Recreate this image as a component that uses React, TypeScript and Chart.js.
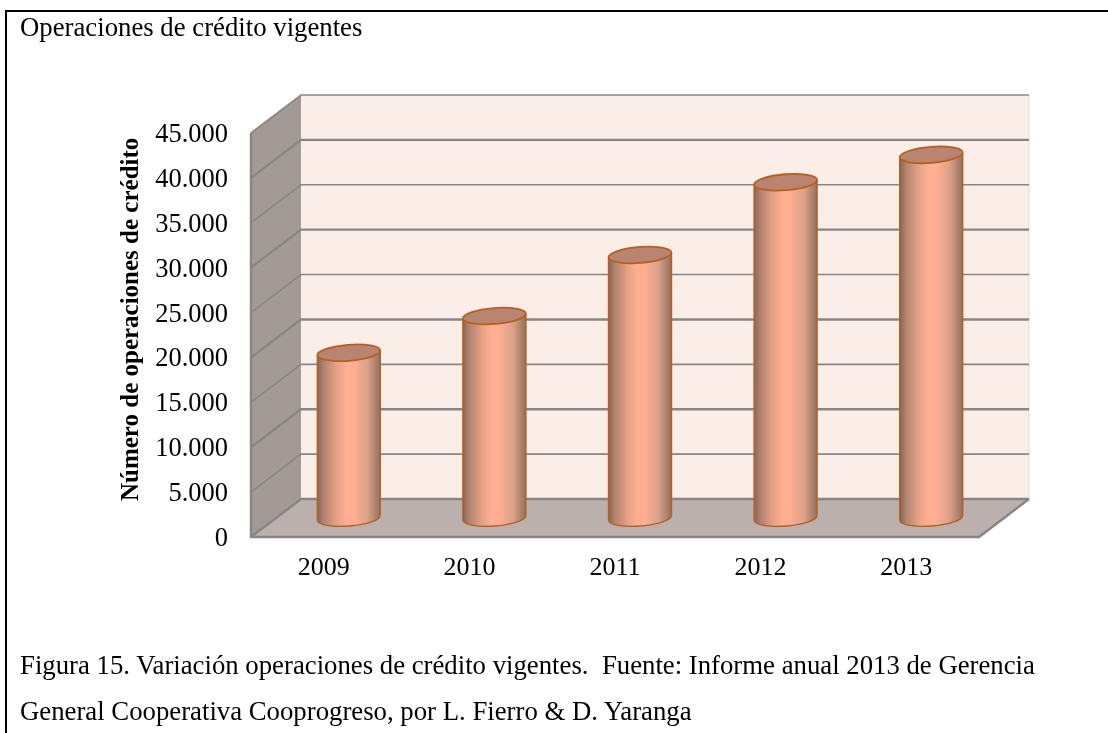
import React, { useEffect, useRef } from "react";
import { Chart, registerables } from "chart.js";

Chart.register(...registerables);

const categories = ["2009", "2010", "2011", "2012", "2013"];
const operaciones = [18400, 22500, 29300, 37400, 40450];
const yMax = 45000;
const yStep = 5000;
const chartTitle = "Operaciones de crédito vigentes";
const yAxisTitle = "Número de operaciones de crédito";
const captionOne = "Figura 15. Variación operaciones de crédito vigentes.  Fuente: Informe anual 2013 de Gerencia";
const captionTwo = "General Cooperativa Cooprogreso, por L. Fierro & D. Yaranga";

const DX = 50;
const DY = 38;
const BAR_DX = 25;
const BAR_DY = 19;
const RY = 8;
const TILT = -0.08;
const GRID = "#868686";
const EDGE = "#B5601F";

const wallsPlugin = {
  id: "walls",
  beforeDatasetsDraw(chart: any) {
    const { ctx, chartArea: a, scales } = chart;
    const { left: l, right: r, top: t, bottom: b } = a;
    ctx.save();
    ctx.fillStyle = "#FBEDE8";
    ctx.fillRect(l + DX, t - DY, r - l, b - t);
    ctx.strokeStyle = "#E4DAD6";
    ctx.lineWidth = 1;
    ctx.beginPath();
    ctx.moveTo(r + DX, t - DY);
    ctx.lineTo(r + DX, b - DY);
    ctx.stroke();
    ctx.fillStyle = "#A39A95";
    ctx.beginPath();
    ctx.moveTo(l, t);
    ctx.lineTo(l + DX, t - DY);
    ctx.lineTo(l + DX, b - DY);
    ctx.lineTo(l, b);
    ctx.closePath();
    ctx.fill();
    ctx.fillStyle = "#BBB0AD";
    ctx.beginPath();
    ctx.moveTo(l, b);
    ctx.lineTo(l + DX, b - DY);
    ctx.lineTo(r + DX, b - DY);
    ctx.lineTo(r, b);
    ctx.closePath();
    ctx.fill();
    ctx.strokeStyle = GRID;
    scales.y.ticks.forEach((tick: any, i: number) => {
      const y = scales.y.getPixelForValue(tick.value);
      ctx.lineWidth = i % 2 === 1 ? 1.6 : 2.4;
      ctx.beginPath();
      ctx.moveTo(l, y);
      ctx.lineTo(l + DX, y - DY);
      ctx.lineTo(r + DX, y - DY);
      ctx.stroke();
    });
    ctx.lineWidth = 2.4;
    ctx.beginPath();
    ctx.moveTo(l, t);
    ctx.lineTo(l, b);
    ctx.lineTo(r, b);
    ctx.lineTo(r + DX, b - DY);
    ctx.stroke();
    ctx.restore();
  },
  beforeDatasetDraw(chart: any, args: any) {
    const { ctx } = chart;
    const meta = chart.getDatasetMeta(args.index);
    meta.data.forEach((bar: any) => {
      const cx = bar.x + BAR_DX;
      const top = bar.y - BAR_DY;
      const base = bar.base - BAR_DY;
      const rx = bar.width / 2;
      const sin = Math.sin(TILT) * rx;
      ctx.save();
      const grad = ctx.createLinearGradient(cx - rx, 0, cx + rx, 0);
      grad.addColorStop(0, "#8A6553");
      grad.addColorStop(0.1, "#B08370");
      grad.addColorStop(0.3, "#E5A185");
      grad.addColorStop(0.46, "#FFAF91");
      grad.addColorStop(0.58, "#FFAF91");
      grad.addColorStop(0.8, "#D9A08A");
      grad.addColorStop(1, "#94705D");
      ctx.fillStyle = grad;
      ctx.beginPath();
      ctx.ellipse(cx, base, rx, RY, TILT, Math.PI, 0, true);
      ctx.lineTo(cx + rx, top + sin);
      ctx.lineTo(cx - rx, top - sin);
      ctx.closePath();
      ctx.fill();
      ctx.strokeStyle = EDGE;
      ctx.lineWidth = 1.4;
      ctx.beginPath();
      ctx.moveTo(cx - rx, top - sin);
      ctx.lineTo(cx - rx, base - sin);
      ctx.moveTo(cx + rx, top + sin);
      ctx.lineTo(cx + rx, base + sin);
      ctx.stroke();
      ctx.beginPath();
      ctx.ellipse(cx, base, rx, RY, TILT, Math.PI, 0, true);
      ctx.stroke();
      ctx.fillStyle = "#B98570";
      ctx.lineWidth = 1.8;
      ctx.beginPath();
      ctx.ellipse(cx, top, rx, RY, TILT, 0, Math.PI * 2);
      ctx.fill();
      ctx.stroke();
      ctx.restore();
    });
    return false;
  },
};

export default function App() {
  const ref = useRef<HTMLCanvasElement>(null);
  useEffect(() => {
    const chart = new Chart(ref.current as HTMLCanvasElement, {
      type: "bar",
      data: {
        labels: categories,
        datasets: [
          {
            label: "Operaciones de crédito vigentes",
            data: operaciones,
            backgroundColor: "#FFAF91",
            borderColor: EDGE,
            barThickness: 63,
          },
        ],
      },
      plugins: [wallsPlugin],
      options: {
        animation: false,
        responsive: false,
        devicePixelRatio: 1,
        layout: { padding: { top: 133, left: 0, right: 129, bottom: 0 } },
        plugins: { legend: { display: false }, tooltip: { enabled: false }, title: { display: false } },
        scales: {
          x: {
            grid: { display: false },
            border: { display: false },
            ticks: {
              color: "#000",
              padding: 8,
              font: { family: "'Liberation Serif'", size: 26 },
              maxRotation: 0,
            },
            afterFit(s: any) {
              s.height = 196;
            },
          },
          y: {
            min: 0,
            max: yMax,
            grid: { display: false },
            border: { display: false },
            ticks: {
              stepSize: yStep,
              color: "#000",
              padding: 15,
              labelOffset: 2,
              font: { family: "'Liberation Serif'", size: 26.5 },
              callback: (v: any) => (v === 0 ? "0" : `${Math.floor(v / 1000)}.${String(v % 1000).padStart(3, "0")}`),
            },
            title: {
              display: true,
              text: "     " + yAxisTitle,
              color: "#000",
              font: { family: "'Liberation Serif'", size: 25, weight: "bold" },
              padding: { top: 117, bottom: 0 },
            },
            afterFit(s: any) {
              s.width = 251;
            },
          },
        },
      },
    } as any);
    return () => chart.destroy();
  }, []);

  const text: React.CSSProperties = {
    position: "absolute",
    left: 20,
    fontFamily: "'Liberation Serif'",
    fontSize: 26.75,
    lineHeight: "24px",
    whiteSpace: "pre",
    color: "#000",
  };
  return (
    <div style={{ position: "fixed", left: 0, top: 0, width: 1108, height: 733, overflow: "hidden", background: "#fff" }}>
      <canvas ref={ref} width={1108} height={733} style={{ position: "absolute", left: 0, top: 0, width: 1108, height: 733 }} />
      <div style={{ position: "absolute", left: 5, top: 10, width: 2, height: 723, background: "#000" }} />
      <div style={{ position: "absolute", left: 5, top: 10, width: 1103, height: 2, background: "#000" }} />
      <div style={{ ...text, top: 15 }}>{chartTitle}</div>
      <div style={{ ...text, top: 653 }}>{captionOne}</div>
      <div style={{ ...text, top: 699 }}>{captionTwo}</div>
    </div>
  );
}
